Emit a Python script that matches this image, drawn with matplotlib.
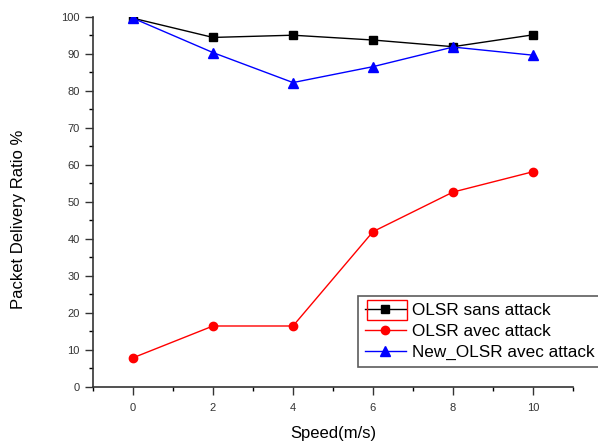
import matplotlib
matplotlib.use("Agg")
import matplotlib.pyplot as plt
from matplotlib.patches import Rectangle
from matplotlib.ticker import MultipleLocator

plt.rcParams['font.family'] = ['Liberation Sans', 'DejaVu Sans']

# data
speed = [0, 2, 4, 6, 8, 10]
olsr_sans = [99.6, 94.4, 95.0, 93.7, 91.9, 95.1]
olsr_avec = [7.8, 16.4, 16.4, 41.9, 52.6, 58.1]
new_olsr = [99.6, 90.3, 82.2, 86.5, 91.8, 89.6]

labels = ['OLSR sans attack', 'OLSR avec attack', 'New_OLSR avec attack']

fig = plt.figure(figsize=(5.98, 4.41), dpi=100)
ax = fig.add_axes([0.1555, 0.1232, 0.8027, 0.8389])

ax.plot(speed, olsr_sans, color='black', lw=1, marker='s', ms=6, label=labels[0])
ax.plot(speed, olsr_avec, color='red', lw=1, marker='o', ms=6, label=labels[1])
ax.plot(speed, new_olsr, color='blue', lw=1, marker='^', ms=7, label=labels[2])

ax.set_xlim(-1, 11)
ax.set_ylim(0, 100)
ax.xaxis.set_major_locator(MultipleLocator(2))
ax.xaxis.set_minor_locator(MultipleLocator(1))
ax.yaxis.set_major_locator(MultipleLocator(10))
ax.yaxis.set_minor_locator(MultipleLocator(5))
ax.tick_params(which='major', direction='out', length=5.5, width=1, labelsize=8, colors='#333333')
ax.tick_params(which='minor', direction='out', length=3, width=1)
ax.tick_params(axis='x', pad=6)
ax.tick_params(axis='y', pad=4)

ax.spines['top'].set_visible(False)
ax.spines['right'].set_visible(False)
for s in ['left', 'bottom']:
    ax.spines[s].set_color('#333333')
    ax.spines[s].set_linewidth(1.2)

ax.set_xlabel('Speed(m/s)', fontsize=12, va='center')
ax.xaxis.set_label_coords(0.5, -0.127)
ax.set_ylabel('Packet Delivery Ratio %', fontsize=12, va='center')
ax.yaxis.set_label_coords(-0.155, 0.453)

leg = ax.legend(loc='upper left', bbox_to_anchor=(0.552, 0.245), fontsize=12.3,
                frameon=True, fancybox=False, edgecolor='#333333',
                handlelength=2.4, handletextpad=0.35, borderpad=0.4,
                labelspacing=0.36, borderaxespad=0)
leg.get_frame().set_linewidth(1.2)
leg.set_clip_on(False)

# red selection box around the first legend handle, as in the reference
fig.canvas.draw()
tb = leg.get_texts()[0].get_window_extent()
yc = (tb.y0 + tb.y1) / 2
fig.patches.append(Rectangle((tb.x0 - 45, yc - 10), 40, 20,
                             transform=None, fill=False, edgecolor='red', lw=1))

fig.savefig('out.png', dpi=100)
